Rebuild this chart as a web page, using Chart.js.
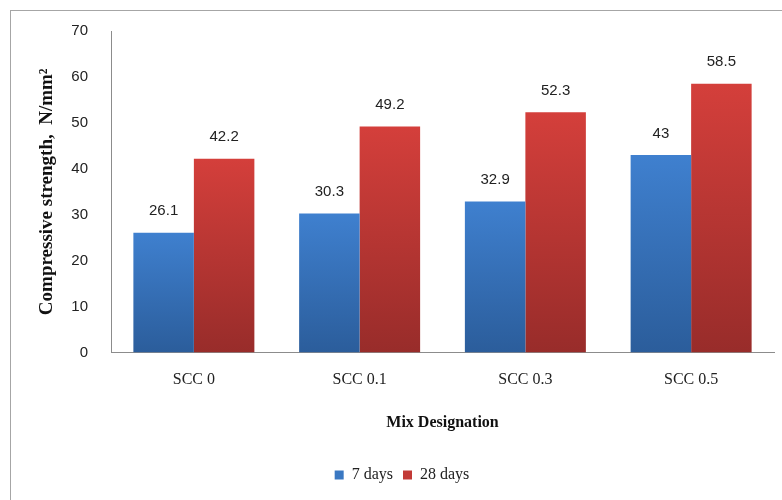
<!DOCTYPE html>
<html>
<head>
<meta charset="utf-8">
<script src="https://cdn.jsdelivr.net/npm/chart.js@4.4.1/dist/chart.umd.min.js"></script>
<style>
    html, body { margin: 0; padding: 0; background: #fff; }
    #wrap { position: relative; width: 782px; height: 500px; overflow: hidden; }
    #frame { position: absolute; left: 10px; top: 10px; width: 900px; height: 600px; border: 1px solid #a6a6a6; }
    canvas { position: absolute; left: 0; top: 0; }
</style>
</head>
<body>
<div id="wrap">
    <div id="frame"></div>
    <canvas id="chart" width="782" height="500"></canvas>
</div>
<script>
var categories = ['SCC 0', 'SCC 0.1', 'SCC 0.3', 'SCC 0.5'];
var days7 = [26.1, 30.3, 32.9, 43];
var days28 = [42.2, 49.2, 52.3, 58.5];
var yTicks = [0, 10, 20, 30, 40, 50, 60, 70];

var serif = '"Liberation Serif", "Times New Roman", serif';
var sans = '"Liberation Sans", Arial, sans-serif';

var blue = ['#3f80cf', '#2b5d9b', '#3a78c2'];
var red = ['#d43f3b', '#982c2a', '#c23a36'];

// vertical gradient per bar, from the value down to zero
function barGradient(cols) {
    return function (ctx) {
        var chart = ctx.chart;
        var y = chart.scales.y;
        if (!y || ctx.raw === undefined) return cols[2];
        var y0 = y.getPixelForValue(ctx.raw);
        var y1 = y.getPixelForValue(0);
        if (!isFinite(y0) || !isFinite(y1) || y0 === y1) return cols[2];
        var g = chart.ctx.createLinearGradient(0, y0, 0, y1);
        g.addColorStop(0, cols[0]);
        g.addColorStop(1, cols[1]);
        return g;
    };
}

var valueLabels = {
    id: 'valueLabels',
    afterDatasetsDraw: function (chart) {
        var c = chart.ctx;
        c.save();
        c.font = '15px ' + sans;
        c.fillStyle = '#222';
        c.textAlign = 'center';
        c.textBaseline = 'bottom';
        chart.data.datasets.forEach(function (ds, i) {
            chart.getDatasetMeta(i).data.forEach(function (bar, j) {
                c.fillText(String(ds.data[j]), bar.x, bar.y - 14);
            });
        });
        c.restore();
    }
};

new Chart(document.getElementById('chart'), {
    type: 'bar',
    data: {
        labels: categories,
        datasets: [{
            label: '7 days',
            data: days7,
            backgroundColor: barGradient(blue),
            legendColor: blue[2],
            borderWidth: 0,
            categoryPercentage: 0.73,
            barPercentage: 1
        }, {
            label: '28 days',
            data: days28,
            backgroundColor: barGradient(red),
            legendColor: red[2],
            borderWidth: 0,
            categoryPercentage: 0.73,
            barPercentage: 1
        }]
    },
    options: {
        responsive: false,
        animation: false,
        layout: { padding: { left: 30, right: 8, top: 31, bottom: 7 } },
        plugins: {
            legend: {
                position: 'bottom',
                labels: {
                    boxWidth: 9,
                    boxHeight: 9,
                    padding: 10,
                    color: '#222',
                    font: { family: serif, size: 16 },
                    generateLabels: function (chart) {
                        return chart.data.datasets.map(function (ds, i) {
                            return {
                                text: ds.label,
                                fillStyle: ds.legendColor,
                                strokeStyle: ds.legendColor,
                                lineWidth: 0,
                                fontColor: '#222',
                                datasetIndex: i
                            };
                        });
                    }
                }
            },
            tooltip: { enabled: false }
        },
        scales: {
            x: {
                grid: { display: false },
                border: { color: '#8c8c8c', width: 1 },
                ticks: { color: '#222', padding: 10, font: { family: serif, size: 16 } },
                title: {
                    display: true,
                    text: 'Mix Designation',
                    color: '#111',
                    padding: { top: 13, bottom: 25 },
                    font: { family: serif, size: 16, weight: 'bold' }
                }
            },
            y: {
                min: 0,
                max: 70,
                grid: { display: false },
                border: { color: '#8c8c8c', width: 1 },
                afterBuildTicks: function (axis) {
                    axis.ticks = yTicks.map(function (v) { return { value: v }; });
                },
                afterFit: function (axis) { axis.width = 81; },
                ticks: { color: '#222', padding: 15, font: { family: sans, size: 15 } },
                title: {
                    display: true,
                    text: 'Compressive strength,  N/mm²',
                    color: '#111',
                    padding: { top: 6, bottom: 0 },
                    font: { family: serif, size: 19, weight: 'bold' }
                }
            }
        }
    },
    plugins: [valueLabels]
});
</script>
</body>
</html>
